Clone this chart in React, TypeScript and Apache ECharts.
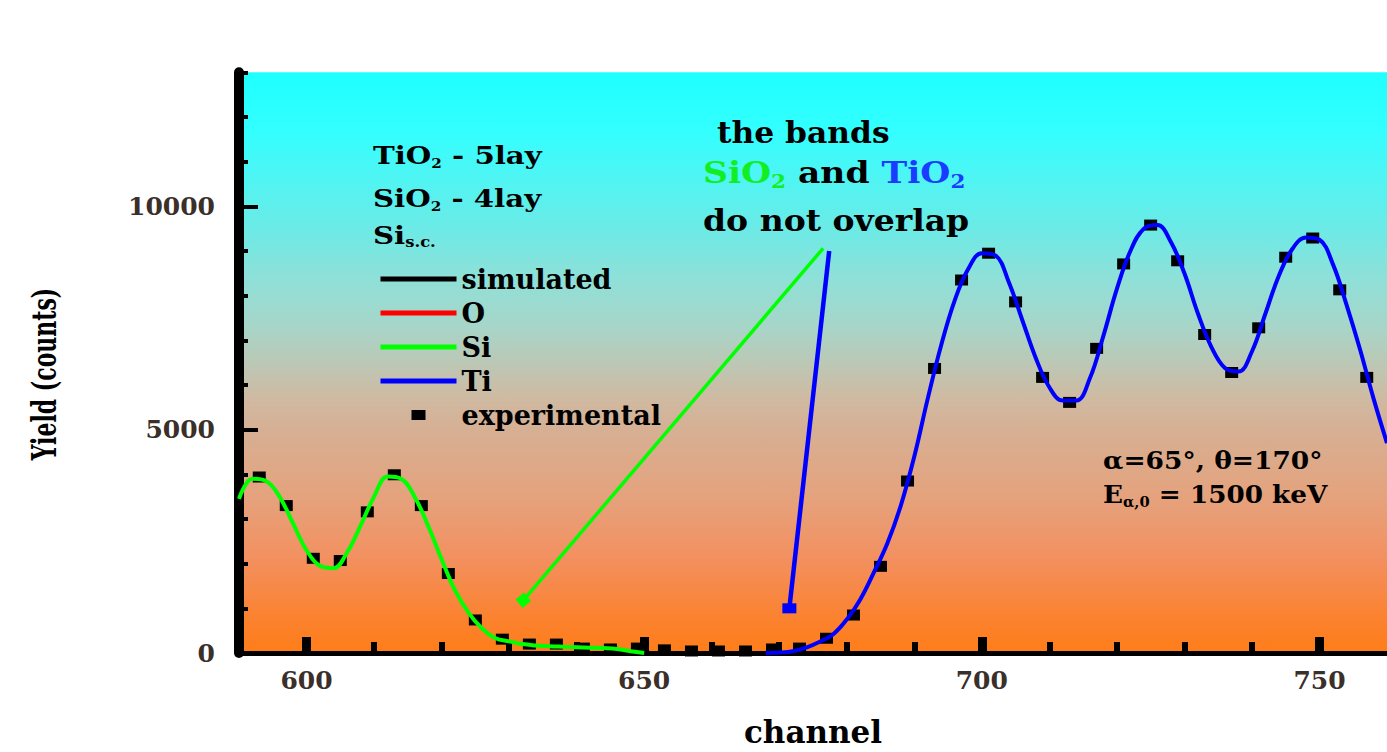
import React, { useEffect, useRef } from "react";
import * as echarts from "echarts";

// Measured spectrum points (every 4th channel)
const expChannel = [
  593, 597, 601, 605, 609, 613, 617, 621, 625, 629, 633, 637, 641, 645, 649, 653, 657, 661, 665, 669, 673,
  677, 681, 685, 689, 693, 697, 701, 705, 709, 713, 717, 721, 725, 729, 733, 737, 741, 745, 749, 753, 757,
];
const expYield = [
  3940, 3300, 2120, 2070, 3160, 3990, 3300, 1780, 740, 310, 200, 200, 110, 90, 110, 70, 45, 45, 45, 90, 110,
  330, 850, 1940, 3850, 6370, 8350, 8950, 7860, 6170, 5610, 6820, 8710, 9580, 8780, 7130, 6280, 7280, 8860,
  9290, 8130, 6170,
];

// Simulated Si contribution
const siChannel = [
  590, 592, 594, 596, 598, 600, 602, 604, 606, 608, 610, 612, 614, 616, 618, 620, 622, 624, 626, 628, 630,
  632, 634, 636, 638, 640, 642, 644, 646, 648, 650,
];
const siYield = [
  3450, 3900, 3850, 3500, 2900, 2300, 1950, 1900, 2250, 2850, 3500, 3950, 3900, 3500, 2850, 2100, 1400, 900,
  550, 330, 260, 200, 170, 150, 140, 130, 120, 110, 90, 40, 0,
];

// Simulated Ti contribution
const tiChannel = [
  668, 670, 672, 674, 676, 678, 680, 682, 684, 686, 688, 690, 692, 694, 696, 698, 700, 702, 704, 706, 708,
  710, 712, 714, 716, 718, 720, 722, 724, 726, 728, 730, 732, 734, 736, 738, 740, 742, 744, 746, 748, 750,
  752, 754, 756, 758, 760,
];
const tiYield = [
  0, 10, 40, 120, 250, 420, 750, 1200, 1800, 2450, 3300, 4400, 5700, 6900, 7900, 8600, 8950, 8900, 8300,
  7450, 6600, 5950, 5650, 5650, 6150, 7100, 8150, 9000, 9500, 9580, 9200, 8500, 7600, 6850, 6380, 6300,
  6750, 7600, 8450, 9050, 9300, 9250, 8700, 7800, 6800, 5700, 4700,
];

// Pointers from the note down to the two bands: [channel, yield]
const siBandPointer = [
  [632.1, 1180],
  [676.5, 9060],
];
const tiBandPointer = [
  [671.5, 1000],
  [677.4, 9000],
];

const xLabelStep = 50;
const xMajorTicks = [600, 650, 700, 750];
const xMinorTicks = [610, 620, 630, 640, 660, 670, 680, 690, 710, 720, 730, 740];
const yMajorTicks = [0, 5000, 10000];
const yMinorTicks = [1000, 2000, 3000, 4000, 6000, 7000, 8000, 9000, 11000, 12000, 13000];

const FONT = '"DejaVu Serif", serif';
const GREEN = "#00ff00";
const BLUE = "#0000ff";

const pair = (xs: number[], ys: number[]) => xs.map((x, i) => [x, ys[i]]);

export default function App() {
  const ref = useRef<HTMLDivElement>(null);

  useEffect(() => {
    if (!ref.current) return;
    const chart = echarts.init(ref.current, null, { renderer: "svg" });

    const bg = new echarts.graphic.LinearGradient(0, 0, 0, 1, [
      { offset: 0, color: "#1effff" },
      { offset: 0.1, color: "#33ffff" },
      { offset: 0.27, color: "#6ceae6" },
      { offset: 0.356, color: "#8fe0d8" },
      { offset: 0.441, color: "#a8d5c8" },
      { offset: 0.561, color: "#cfbaa2" },
      { offset: 0.613, color: "#d6b094" },
      { offset: 0.733, color: "#e5a27c" },
      { offset: 0.836, color: "#f39060" },
      { offset: 0.938, color: "#fb8230" },
      { offset: 1, color: "#ff7d18" },
    ]);

    const tickFont = {
      fontFamily: FONT,
      fontWeight: "bold" as const,
      fontSize: 25,
      color: "#3b2f2a",
    };

    const main = (size: number, color = "#000", lh = size + 5) => ({
      fontFamily: FONT,
      fontWeight: "bold",
      fontSize: size,
      fill: color,
      lineHeight: lh,
      verticalAlign: "middle",
    });
    const sub = (size: number, color = "#000", lh = 10) => ({
      fontFamily: FONT,
      fontWeight: "bold",
      fontSize: size,
      fill: color,
      lineHeight: lh,
      verticalAlign: "bottom",
    });

    const text = (x: number, y: number, content: string, size: number, scaleX: number, rich?: any) => ({
      type: "text",
      x,
      y,
      scaleX,
      z: 10,
      style: {
        text: content,
        fontFamily: FONT,
        fontWeight: "bold",
        fontSize: size,
        fill: "#000",
        align: "left",
        verticalAlign: "middle",
        rich,
      },
    });

    const hiddenMarker = { opacity: 0 };

    const option: any = {
      animation: false,
      backgroundColor: "#ffffff",
      textStyle: { fontFamily: FONT },
      grid: {
        left: 239,
        right: -14,
        top: 72.3,
        bottom: 96,
        show: true,
        borderWidth: 0,
        backgroundColor: bg,
      },
      xAxis: [
        {
          // labelled axis, ticks every 10 channels, labels every 50
          type: "value",
          min: 590,
          max: 760,
          interval: 10,
          position: "bottom",
          axisLine: { show: true, onZero: false, lineStyle: { color: "#000", width: 5 } },
          axisTick: { inside: true, length: 11, customValues: xMinorTicks, lineStyle: { color: "#000", width: 6 } },
          axisLabel: {
            margin: 15,
            ...tickFont,
            showMinLabel: false,
            showMaxLabel: false,
            formatter: (v: number) => (v % xLabelStep === 0 ? String(v) : ""),
          },
          splitLine: { show: false },
          name: "channel",
          nameLocation: "middle",
          nameGap: 63,
          nameTextStyle: { fontFamily: FONT, fontWeight: "bold", fontSize: 31, color: "#000" },
        },
        {
          // major ticks every 50 channels
          type: "value",
          min: 590,
          max: 760,
          position: "bottom",
          axisLine: { show: false, onZero: false },
          axisTick: { inside: true, length: 16, customValues: xMajorTicks, lineStyle: { color: "#000", width: 9 } },
          axisLabel: { show: false },
          splitLine: { show: false },
        },
      ],
      yAxis: [
        {
          type: "value",
          min: 0,
          max: 13000,
          position: "left",
          axisLine: { onZero: false, lineStyle: { color: "#000", width: 10 } },
          axisTick: { inside: true, length: 19, customValues: yMajorTicks, lineStyle: { color: "#000", width: 4 } },
          axisLabel: { customValues: yMajorTicks, margin: 24, ...tickFont, formatter: (v: number) => String(v) },
          splitLine: { show: false },
        },
        {
          type: "value",
          min: 0,
          max: 13000,
          position: "left",
          axisLine: { show: false, onZero: false },
          axisTick: { inside: true, length: 9, customValues: yMinorTicks, lineStyle: { color: "#000", width: 4 } },
          axisLabel: { show: false },
          splitLine: { show: false },
        },
      ],
      legend: {
        data: [
          { name: "simulated", itemStyle: hiddenMarker },
          { name: "O", itemStyle: hiddenMarker },
          { name: "Si", itemStyle: hiddenMarker },
          { name: "Ti", itemStyle: hiddenMarker },
          { name: "experimental", icon: "path://M0,0M76,14M31,2L45,2L45,12L31,12Z" },
        ],
        orient: "vertical",
        left: 378,
        top: 265.5,
        padding: 0,
        itemGap: 7,
        itemWidth: 76,
        itemHeight: 14,
        selectedMode: false,
        lineStyle: { width: 5 },
        textStyle: { fontFamily: FONT, fontWeight: "bold", fontSize: 27, lineHeight: 26, color: "#000" },
      },
      series: [
        {
          type: "scatter",
          name: "experimental",
          data: pair(expChannel, expYield),
          symbol: "rect",
          symbolSize: [13, 11],
          itemStyle: { color: "#000", opacity: 1 },
          z: 2,
        },
        {
          type: "line",
          name: "simulated",
          data: [],
          symbol: "none",
          lineStyle: { color: "#000", width: 4 },
          itemStyle: { color: "#000" },
        },
        {
          type: "line",
          name: "O",
          data: [],
          symbol: "none",
          lineStyle: { color: "#ff0000", width: 4 },
          itemStyle: { color: "#ff0000" },
        },
        {
          type: "line",
          name: "Si",
          data: pair(siChannel, siYield),
          smooth: 0.4,
          symbol: "none",
          lineStyle: { color: GREEN, width: 4 },
          itemStyle: { color: GREEN },
          z: 3,
        },
        {
          type: "line",
          name: "Ti",
          data: pair(tiChannel, tiYield),
          smooth: 0.4,
          symbol: "none",
          lineStyle: { color: BLUE, width: 4 },
          itemStyle: { color: BLUE },
          z: 3,
        },
        {
          type: "line",
          name: "SiO2 band",
          data: [
            { value: siBandPointer[0], symbol: "rect", symbolSize: [11, 11], symbolRotate: 40 },
            { value: siBandPointer[1], symbol: "none" },
          ],
          showSymbol: true,
          lineStyle: { color: GREEN, width: 3.5 },
          itemStyle: { color: GREEN, opacity: 1 },
          z: 3,
        },
        {
          type: "line",
          name: "TiO2 band",
          data: [
            { value: tiBandPointer[0], symbol: "rect", symbolSize: [14, 10] },
            { value: tiBandPointer[1], symbol: "none" },
          ],
          showSymbol: true,
          lineStyle: { color: BLUE, width: 4.5 },
          itemStyle: { color: BLUE, opacity: 1 },
          z: 3,
        },
      ],
      graphic: {
        elements: [
          // sample description
          text(373, 154.5, "{m|TiO}{s|2}{m| - 5lay}", 25, 1.17, { m: main(25), s: sub(13) }),
          text(373, 197.5, "{m|SiO}{s|2}{m| - 4lay}", 25, 1.17, { m: main(25), s: sub(13) }),
          text(373, 234.5, "{m|Si}{s|s.c.}", 25, 1.17, { m: main(25), s: sub(14) }),
          // note about the bands
          text(717, 133.3, "the bands", 29, 1.08),
          text(703, 173.3, "{g|SiO}{gs|2}{m| and }{b|TiO}{bs|2}", 29, 1.19, {
            m: main(29),
            g: main(29, "#11ee22"),
            gs: sub(18, "#11ee22", 12),
            b: main(29, "#1a3cff"),
            bs: sub(18, "#1a3cff", 12),
          }),
          text(703, 220.3, "do not overlap", 29, 1.14),
          // measurement geometry
          text(1103, 460.5, "α=65°, θ=170°", 25, 1.06),
          text(1103, 494.5, "{m|E}{s|α,0}{m| = 1500 keV}", 25, 1.05, { m: main(25), s: sub(14) }),
          // y axis title
          {
            type: "text",
            x: 45,
            y: 374,
            rotation: Math.PI / 2,
            scaleY: 1.5,
            style: {
              text: "Yield (counts)",
              fontFamily: FONT,
              fontWeight: "bold",
              fontSize: 22,
              fill: "#000",
              align: "center",
              verticalAlign: "middle",
            },
          },
        ],
      },
    };

    chart.setOption(option);
    return () => chart.dispose();
  }, []);

  return (
    <div
      ref={ref}
      style={{ position: "fixed", left: 0, top: 0, width: 1387, height: 752, background: "#fff" }}
    />
  );
}
